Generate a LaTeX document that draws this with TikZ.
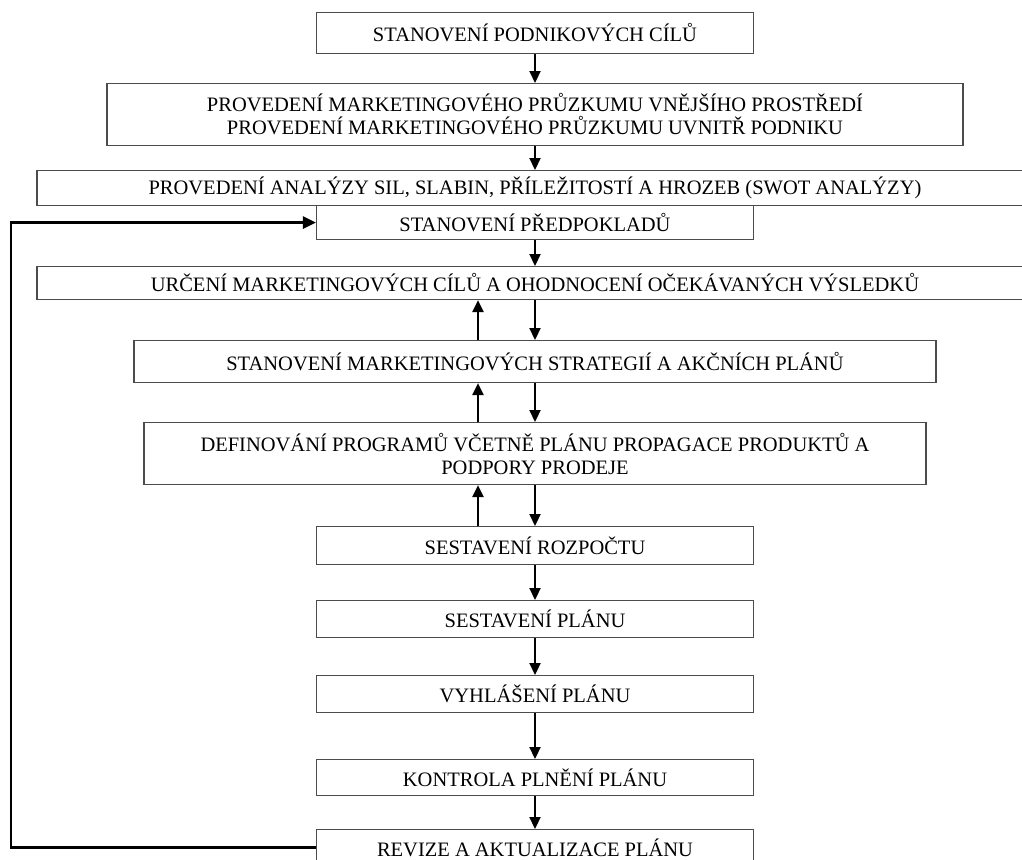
\documentclass[tikz,border=0pt]{standalone}
\usepackage{fontspec}
\setmainfont{Liberation Serif}
\usetikzlibrary{arrows.meta}
\begin{document}
\begin{tikzpicture}[x=1pt,y=-1pt,
  box/.style={draw=black!70, line width=1.1pt, fill=white, inner sep=0pt,
    align=center, font=\fontsize{20.5}{23}\selectfont, anchor=north},
  flow/.style={line width=2.2pt, -{Triangle[length=12pt,width=11pt]}},
  back/.style={line width=2.6pt, -{Triangle[length=13pt,width=12pt]}}]
\clip (0,0) rectangle (1022,859);
\useasboundingbox (0,0) rectangle (1022,859);

% all boxes are centred on x = 535
\node[box, minimum width=437pt, minimum height=41pt] (goals) at (535,12) {STANOVENÍ PODNIKOVÝCH CÍLŮ};
\node[box, minimum width=856pt, minimum height=62pt] (survey) at (535,83)
  {PROVEDENÍ MARKETINGOVÉHO PRŮZKUMU VNĚJŠÍHO PROSTŘEDÍ\\PROVEDENÍ MARKETINGOVÉHO PRŮZKUMU UVNITŘ PODNIKU};
\node[box, minimum width=996pt, minimum height=35pt] (swot) at (535,170)
  {PROVEDENÍ ANALÝZY SIL, SLABIN, PŘÍLEŽITOSTÍ A HROZEB (SWOT ANALÝZY)};
\node[box, minimum width=437pt, minimum height=34pt] (assume) at (535,205) {STANOVENÍ PŘEDPOKLADŮ};
\node[box, minimum width=996pt, minimum height=33pt] (aims) at (535,266)
  {URČENÍ MARKETINGOVÝCH CÍLŮ A OHODNOCENÍ OČEKÁVANÝCH VÝSLEDKŮ};
\node[box, minimum width=802pt, minimum height=42pt] (strat) at (535,340)
  {STANOVENÍ MARKETINGOVÝCH STRATEGIÍ A AKČNÍCH PLÁNŮ};
\node[box, minimum width=782pt, minimum height=62pt] (prog) at (535,422)
  {DEFINOVÁNÍ PROGRAMŮ VČETNĚ PLÁNU PROPAGACE PRODUKTŮ A\\PODPORY PRODEJE};
\node[box, minimum width=437pt, minimum height=38pt] (budget) at (535,526) {SESTAVENÍ ROZPOČTU};
\node[box, minimum width=437pt, minimum height=37pt] (plan) at (535,600) {SESTAVENÍ PLÁNU};
\node[box, minimum width=437pt, minimum height=37pt] (announce) at (535,675) {VYHLÁŠENÍ PLÁNU};
\node[box, minimum width=437pt, minimum height=36pt] (control) at (535,759) {KONTROLA PLNĚNÍ PLÁNU};
\node[box, minimum width=437pt, minimum height=36pt] (revise) at (535,829) {REVIZE A AKTUALIZACE PLÁNU};

% column for the upward arrows and the feedback line
\coordinate (upx) at (478,0);
\coordinate (fbx) at (11,0);

% main downward flow
\draw[flow] (goals.south) -- (survey.north);
\draw[flow] (survey.south) -- (swot.north);
\draw[flow] (assume.south) -- (aims.north);
\draw[flow] (aims.south) -- (strat.north);
\draw[flow] (strat.south) -- (prog.north);
\draw[flow] (prog.south) -- (budget.north);
\draw[flow] (budget.south) -- (plan.north);
\draw[flow] (plan.south) -- (announce.north);
\draw[flow] (announce.south) -- (control.north);
\draw[flow] (control.south) -- (revise.north);

% upward returns
\draw[flow] (strat.north -| upx) -- (aims.south -| upx);
\draw[flow] (prog.north -| upx) -- (strat.south -| upx);
\draw[flow] (budget.north -| upx) -- (prog.south -| upx);

% feedback from revision to assumptions
\draw[back, line join=miter] (revise.west) -- (revise.west -| fbx) -- (assume.west -| fbx) -- (assume.west);
\end{tikzpicture}
\end{document}
